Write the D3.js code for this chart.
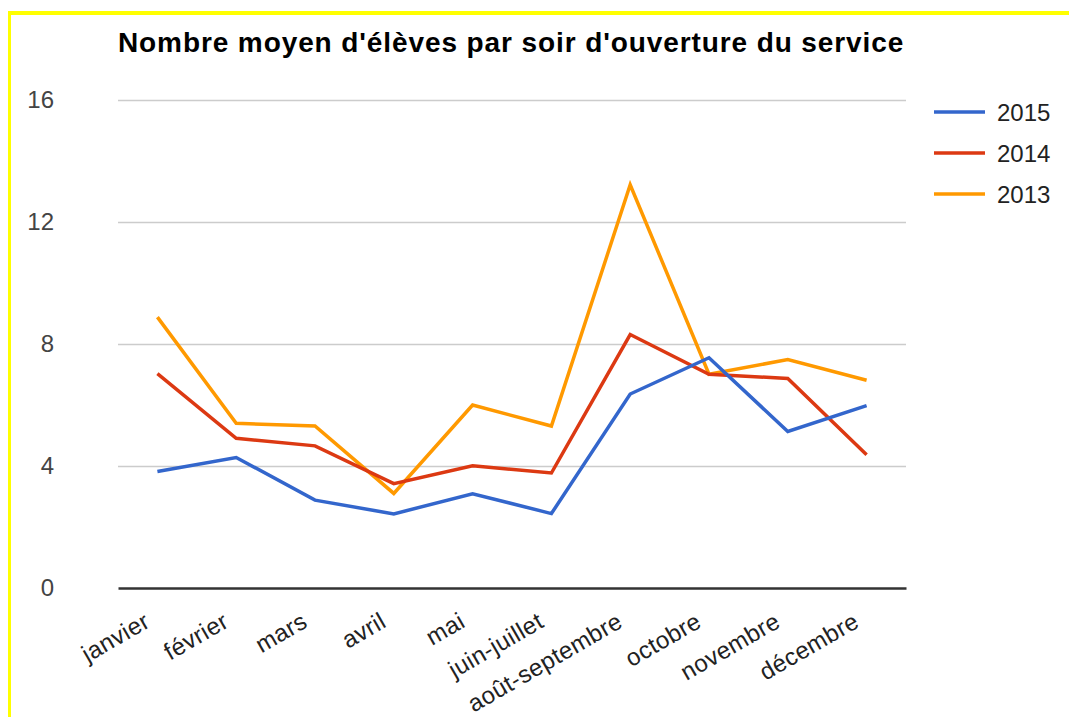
<!DOCTYPE html>
<html lang="fr">
<head>
    <meta charset="UTF-8">
    <title>Nombre moyen d'élèves</title>
    <script src="https://d3js.org/d3.v7.min.js"></script>
    <style>
        body, html {
            margin: 0;
            padding: 0;
            background: #fff;
            font-family: Arial, "Liberation Sans", sans-serif;
        }
        #frame {
            position: absolute;
            left: 8px;
            top: 11px;
            width: 1100px;
            height: 760px;
            border-left: 3px solid #ffff00;
            border-top: 4px solid #ffff00;
        }
        svg {
            position: absolute;
            left: 0;
            top: 0;
        }
    </style>
</head>
<body>
<div id="frame"></div>
<div id="chart"></div>
<script>
    // data
    const months = ["janvier", "février", "mars", "avril", "mai", "juin-juillet",
                    "août-septembre", "octobre", "novembre", "décembre"];
    const years = ["2015", "2014", "2013"];
    const v2015 = [3.82, 4.28, 2.88, 2.43, 3.09, 2.44, 6.36, 7.55, 5.13, 5.98];
    const v2014 = [7.03, 4.91, 4.66, 3.42, 4.01, 3.77, 8.31, 7.01, 6.87, 4.37];
    const v2013 = [8.88, 5.40, 5.31, 3.10, 6.00, 5.31, 13.22, 7.01, 7.49, 6.81];
    const yTicks = [0, 4, 8, 12, 16];
    const colors = ["#3366cc", "#dc3912", "#ff9900"];

    const series = [v2015, v2014, v2013];

    const width = 1069, height = 717;
    const mLeft = 118, mRight = 906, mTop = 100, mBottom = 588;

    const svg = d3.select("#chart").append("svg")
        .attr("width", width)
        .attr("height", height);

    const x = d3.scaleBand().domain(months).range([mLeft, mRight]);
    const y = d3.scaleLinear().domain([0, 16]).range([mBottom, mTop]);

    // title
    svg.append("text")
        .attr("x", mLeft)
        .attr("y", 52)
        .attr("font-size", 28)
        .attr("font-weight", "bold")
        .attr("letter-spacing", "0.9px")
        .attr("fill", "#000")
        .text("Nombre moyen d'élèves par soir d'ouverture du service");

    // gridlines
    svg.append("g")
        .attr("transform", `translate(${mLeft},0)`)
        .call(d3.axisLeft(y).tickValues(yTicks.slice(1)).tickSize(-(mRight - mLeft)).tickFormat(""))
        .call(g => g.select(".domain").remove())
        .call(g => g.selectAll("line").attr("stroke", "#cccccc").attr("stroke-width", 1.5));

    // y labels
    svg.append("g")
        .attr("transform", "translate(54,0)")
        .call(d3.axisLeft(y).tickValues(yTicks).tickSize(0).tickPadding(0))
        .call(g => g.select(".domain").remove())
        .call(g => g.selectAll("text")
            .attr("font-size", 24)
            .attr("font-family", "Arial, 'Liberation Sans', sans-serif")
            .attr("fill", "#444"));

    // x axis baseline + labels
    const xAxis = svg.append("g")
        .attr("transform", `translate(0,${mBottom})`)
        .call(d3.axisBottom(x).tickSize(0).tickPadding(0));
    xAxis.select(".domain").attr("stroke", "#333").attr("stroke-width", 2.5);
    xAxis.selectAll("text")
        .attr("font-size", 24)
        .attr("letter-spacing", "0.4px")
        .attr("font-family", "Arial, 'Liberation Sans', sans-serif")
        .attr("fill", "#222")
        .attr("text-anchor", "end")
        .attr("dy", null)
        .attr("y", 0)
        .attr("transform", "translate(-6,38) rotate(-30)");

    // lines
    const line = d3.line()
        .x((d, i) => x(months[i]) + x.bandwidth() / 2)
        .y(d => y(d));

    svg.append("g")
        .selectAll("path")
        .data(series.slice().reverse())
        .enter().append("path")
        .attr("d", d => line(d))
        .attr("fill", "none")
        .attr("stroke", (d, i) => colors[2 - i])
        .attr("stroke-width", 3.5)
        .attr("stroke-linejoin", "miter");

    // legend
    const legend = svg.append("g")
        .selectAll("g")
        .data(years)
        .enter().append("g")
        .attr("transform", (d, i) => `translate(934,${112 + i * 41})`);

    legend.append("line")
        .attr("x1", 0).attr("x2", 51)
        .attr("stroke", (d, i) => colors[i])
        .attr("stroke-width", 3.5);

    legend.append("text")
        .attr("x", 63)
        .attr("dy", "0.36em")
        .attr("font-size", 24)
        .attr("fill", "#222")
        .text(d => d);
</script>
</body>
</html>
